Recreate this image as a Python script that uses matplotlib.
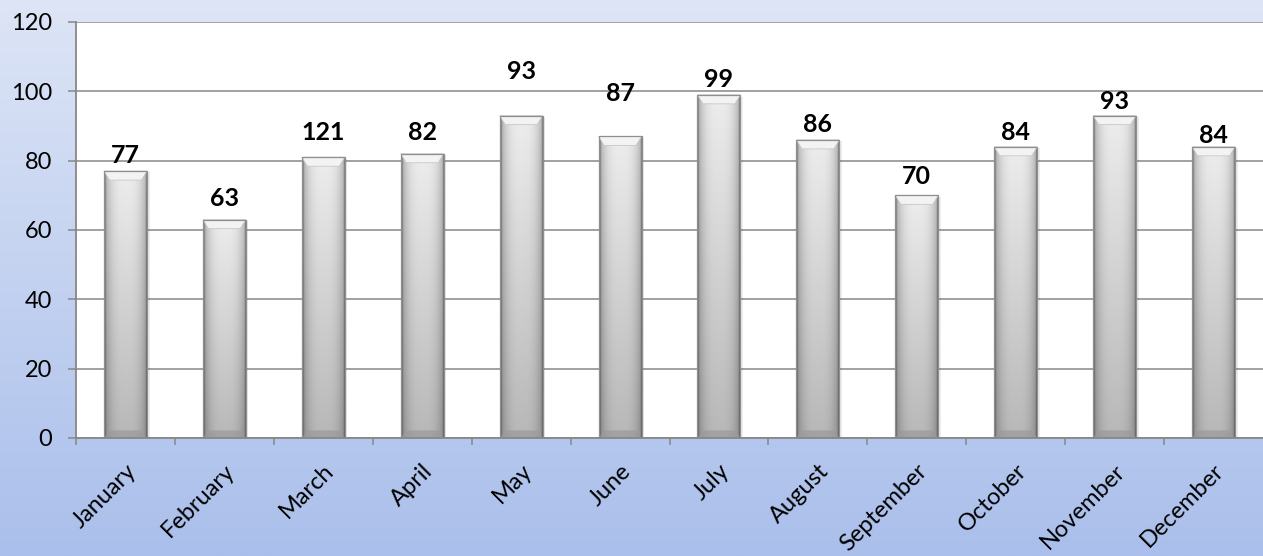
import numpy as np
import matplotlib
matplotlib.use("Agg")
import matplotlib.pyplot as plt
import matplotlib.patches as patches
from matplotlib.colors import LinearSegmentedColormap

# dados
meses = ["January", "February", "March", "April", "May", "June",
         "July", "August", "September", "October", "November", "December"]
alturas = [77, 63, 81, 82, 93, 87, 99, 86, 70, 84, 93, 84]
rotulos = ["77", "63", "121", "82", "93", "87", "99", "86", "70", "84", "93", "84"]
# onde cada rotulo fica (valor no eixo y)
rotulos_y = [81.6, 69.2, 88.0, 88.0, 105.6, 99.5, 103.3, 90.3, 75.3, 88.0, 97.2, 87.2]
y_ticks = [0, 20, 40, 60, 80, 100, 120]

plt.rcParams["font.family"] = ["Lato", "DejaVu Sans"]

fig = plt.figure(figsize=(12.63, 5.56), dpi=100)

# ---- fundo degrade azul ----
fundo = fig.add_axes([0, 0, 1, 1], zorder=-10)
cmap_fundo = LinearSegmentedColormap.from_list("fundo", ["#dde5f6", "#aabfeb"])
fundo.imshow(np.linspace(0, 1, 256).reshape(-1, 1), aspect="auto",
             cmap=cmap_fundo, extent=(0, 1, 0, 1))
fundo.axis("off")

ax = fig.add_axes([76 / 1263, 1 - 438 / 556, 1187 / 1263, 416 / 556])
ax.set_facecolor("white")

x = np.arange(len(meses))
larg = 0.435
barras = ax.bar(x, alturas, width=larg, color="#d9d9d9", edgecolor="none", zorder=3)

# ---- sombreamento das barras (cilindro cinza) ----
perfil_h = np.linspace(-1, 1, 60)
horiz = 1 - 0.30 * np.abs(perfil_h) ** 3
horiz[:3] *= 0.80
horiz[-3:] *= 0.75
vert = np.linspace(0.93, 0.72, 200).reshape(-1, 1)
shade = np.clip(vert * horiz, 0, 1)
img = np.dstack([shade, shade, shade])

for b in barras:
    bx, bw, bh = b.get_x(), b.get_width(), b.get_height()
    # sombrinha a direita
    ax.add_patch(patches.Rectangle((bx + bw, 0), bw * 0.06, bh * 0.995,
                                   facecolor="#000000", alpha=0.07, lw=0, zorder=2))
    im = ax.imshow(img, extent=(bx, bx + bw, 0, bh), aspect="auto",
                   interpolation="bilinear", zorder=4)
    im.set_clip_path(b)
    # tampa chanfrada no topo
    d = bw * 0.13
    e = 2.6
    ax.add_patch(patches.Polygon(
        [(bx, bh), (bx + bw, bh), (bx + bw - d, bh - e), (bx + d, bh - e)],
        closed=True, facecolor="#f3f3f3", edgecolor="#c8c8c8", lw=0.6, zorder=5))
    # base escura
    ax.add_patch(patches.Polygon(
        [(bx, 0), (bx + bw, 0), (bx + bw - d, 2.2), (bx + d, 2.2)],
        closed=True, facecolor="#9a9a9a", edgecolor="none", alpha=0.7, zorder=5))
    ax.add_patch(patches.Rectangle((bx, 0), bw, bh, fill=False,
                                   edgecolor="#8f8f8f", lw=0.9, zorder=6))

# ---- rotulos de dados ----
for xi, txt, yi in zip(x, rotulos, rotulos_y):
    ax.text(xi, yi, txt, ha="center", va="center", fontsize=18,
            fontweight="bold", color="black", zorder=7)

# ---- eixos ----
ax.set_xlim(-0.5, len(meses) - 0.5)
ax.set_ylim(0, 120)
ax.set_yticks(y_ticks)
ax.yaxis.grid(True, color="#878787", linewidth=1.1, zorder=1)
ax.set_axisbelow(True)
for lado in ["top", "right"]:
    ax.spines[lado].set_visible(False)
for lado in ["left", "bottom"]:
    ax.spines[lado].set_color("#878787")
    ax.spines[lado].set_linewidth(1.3)
ax.spines["bottom"].set_zorder(8)

ax.tick_params(axis="y", direction="out", length=6, width=1.1, color="#878787",
               pad=11, labelsize=17, labelcolor="black")
ax.set_xticks(x)
ax.set_xticklabels(meses, rotation=45, ha="right", va="top",
                   rotation_mode="anchor", fontsize=17)
ax.set_xticks(np.arange(len(meses)) - 0.5, minor=True)
ax.tick_params(axis="x", which="major", length=0, pad=16)
ax.tick_params(axis="x", which="minor", direction="out", length=5, width=1.1,
               color="#878787")

fig.savefig("out.png", dpi=100)
